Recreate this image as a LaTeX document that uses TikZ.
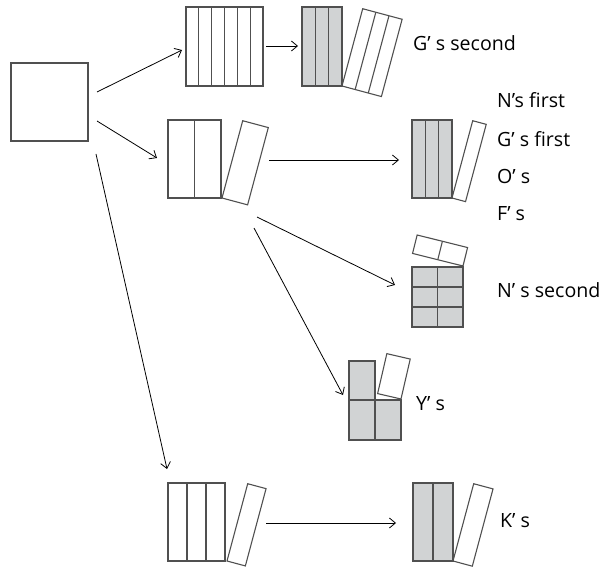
\documentclass[tikz,border=0pt]{standalone}
\usepackage{fontspec}
\setmainfont{Open Sans}
\usepackage{tikz}
\usetikzlibrary{arrows.meta}

\definecolor{boxgray}{RGB}{209,211,212}
\definecolor{edgegray}{RGB}{80,80,80}

% a box cut into equal columns: fill, x, y, column width, columns, height
\newcommand{\colbox}[6]{%
  \filldraw[box, fill=#1] (#2,#3) rectangle ++({#4*#5},#6);
  \foreach \i in {2,...,#5}
    \draw[box] ({#2+(\i-1)*#4},#3) -- ++(0,#6);
}

\begin{document}
\begin{tikzpicture}[x=1pt, y=1pt,
    box/.style={draw=edgegray, line width=1.1pt},
    link/.style={-{Straight Barb[length=6pt, width=10pt]}, line width=0.8pt},
    lbl/.style={anchor=west, inner sep=0pt, font=\fontsize{19.6}{22}\selectfont}]

    \useasboundingbox (0,0) rectangle (608,566);

    % Starting square
    \draw[box] (11,425) rectangle (88,503);

    % ---- Top row ----
    \colbox{white}{186}{480}{12.83}{6}{79}
    \colbox{boxgray}{302}{480}{13.33}{3}{79}
    \begin{scope}[shift={(342,480)}, rotate=-15]
        \colbox{white}{0}{0}{13.6}{3}{80}
    \end{scope}
    \node[lbl] (gsecond) at (413,523) {G’ s second};

    % ---- Middle row ----
    \colbox{white}{168}{368}{26.5}{2}{78}
    \begin{scope}[shift={(222,368)}, rotate=-15]
        \draw[box] (0,0) rectangle (26.5,80);
    \end{scope}
    \colbox{boxgray}{412}{368}{13.33}{3}{78}
    \begin{scope}[shift={(452,368)}, rotate=-15]
        \draw[box] (0,0) rectangle (14,80);
    \end{scope}
    \node[lbl] (nfirst) at (497,466) {N’s first};
    \node[lbl] (gfirst) at (497,427) {G’ s first};
    \node[lbl] (os)     at (497,390) {O’ s};
    \node[lbl] (fs)     at (497,352) {F’ s};

    % ---- N's second: 2x3 grid with a tilted pair on top ----
    \filldraw[box, fill=boxgray] (412,239) rectangle (463,299);
    \draw[box] (437.5,239) -- (437.5,299);
    \draw[box] (412,259) -- (463,259);
    \draw[box] (412,279) -- (463,279);
    \begin{scope}[shift={(463,300)}, rotate=-14]
        \colbox{white}{-52}{0}{26}{2}{19}
    \end{scope}
    \node[lbl] (nsecond) at (497,276) {N’ s second};

    % ---- Y's: three cells and a tilted one ----
    \filldraw[box, fill=boxgray] (349,166) rectangle (375,205);
    \filldraw[box, fill=boxgray] (349,126) rectangle (375,166);
    \filldraw[box, fill=boxgray] (375,126) rectangle (401,166);
    \begin{scope}[shift={(401,167)}, rotate=-13]
        \draw[box] (-24,0) rectangle (0,41);
    \end{scope}
    \node[lbl] (ys) at (416,162) {Y’ s};

    % ---- Bottom row ----
    \colbox{white}{168}{5}{19}{3}{78}
    \begin{scope}[shift={(227,5)}, rotate=-15]
        \draw[box] (0,0) rectangle (19,80);
    \end{scope}
    \colbox{boxgray}{413}{5}{20}{2}{78}
    \begin{scope}[shift={(453,5)}, rotate=-15]
        \draw[box] (0,0) rectangle (20,80);
    \end{scope}
    \node[lbl] (ks) at (500,45) {K’ s};

    % Arrow ends
    \coordinate (sqtop) at (97,474);
    \coordinate (sqmid) at (97,445);
    \coordinate (sqbot) at (96,412);
    \coordinate (toptip) at (182,516);
    \coordinate (midtip) at (157,408);
    \coordinate (bottip) at (167,97);
    \coordinate (topa) at (266,520);
    \coordinate (topb) at (298,520);
    \coordinate (mida) at (269,406);
    \coordinate (midb) at (399,406);
    \coordinate (nsa) at (257,349);
    \coordinate (nsb) at (395,281);
    \coordinate (ysa) at (254,338);
    \coordinate (ysb) at (343,171);
    \coordinate (bota) at (266,43);
    \coordinate (botb) at (396,43);

    % Arrows
    \draw[link] (sqtop) -- (toptip);
    \draw[link] (sqmid) -- (midtip);
    \draw[link] (sqbot) -- (bottip);
    \draw[link] (topa) -- (topb);
    \draw[link] (mida) -- (midb);
    \draw[link] (nsa) -- (nsb);
    \draw[link] (ysa) -- (ysb);
    \draw[link] (bota) -- (botb);

\end{tikzpicture}
\end{document}
